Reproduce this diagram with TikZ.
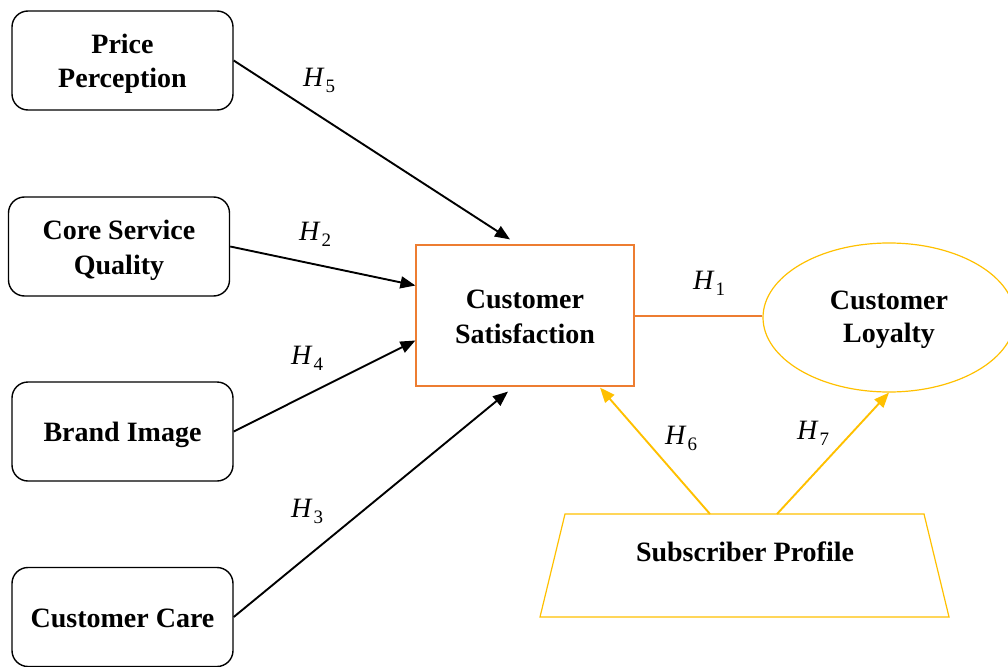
\documentclass[tikz,border=0pt]{standalone}
\usepackage{fontspec}
\setmainfont{Liberation Serif}
\usetikzlibrary{shapes.geometric,arrows.meta,calc}
\definecolor{satorange}{HTML}{ED7D31}
\definecolor{loygold}{HTML}{FFC000}

% hypothesis label: italic H with an upright, lowered index
\newcommand\hyplab[1]{\textit{H}\kern1pt\raisebox{-6pt}{\fontsize{19}{20}\selectfont #1}}

\tikzset{
  bigtext/.style={align=center, font=\fontsize{28}{34.5}\selectfont\bfseries},
  twoline/.style={text height=55pt, text depth=0pt},
  oneline/.style={text height=20.5pt, text depth=0pt},
  varbox/.style={draw=black, line width=1.4pt, rounded corners=16pt,
    minimum width=221pt, minimum height=99pt, inner sep=0pt, bigtext},
  hyp/.style={font=\fontsize{28}{30}\selectfont, anchor=base west, inner sep=0pt},
  blackarrow/.style={draw=black, line width=1.9pt, -{Triangle[length=15pt,width=12pt]}},
  goldarrow/.style={draw=loygold, line width=1.9pt, -{Triangle[length=15pt,width=12pt]}},
  orangelink/.style={draw=satorange, line width=2pt},
}

\begin{document}
\begin{tikzpicture}[x=1pt,y=-1pt]
\useasboundingbox (0,0) rectangle (1008,666);
\clip (0,0) rectangle (1008,666);

% antecedent constructs
\node[varbox, twoline] (pp) at (122.5,60.5) {Price\\Perception};
\node[varbox, twoline] (csq) at (119,246.5) {Core Service\\Quality};
\node[varbox, oneline] (bi) at (122.5,431.5) {Brand Image};
\node[varbox, oneline] (cc) at (122.5,617) {Customer Care};

% mediator and outcome
\node[draw=satorange, line width=1.2pt, minimum width=218pt, minimum height=141pt,
      inner sep=0pt, bigtext, twoline] (sat) at (525,315.5) {Customer\\Satisfaction};
\node[draw=loygold, line width=1.2pt, ellipse, minimum width=252pt, minimum height=149pt,
      inner sep=0pt, bigtext, font=\fontsize{28}{33}\selectfont\bfseries,
      text height=49pt, text depth=0pt] (loy) at (889,317.5) {Customer\\Loyalty};

% moderator: subscriber profile trapezium
\draw[loygold, line width=1.2pt] (565,514) -- (924,514) -- (949,617) -- (540,617) -- cycle;
\node[bigtext, anchor=base, inner sep=0pt] (sp) at (745,561) {Subscriber Profile};
\coordinate (sp6) at (710,514);
\coordinate (sp7) at (777,514);
\coordinate (satr) at ($(sat.east)+(0,0.5)$);

% hypothesised paths
\draw[blackarrow] (pp.east) -- ($(sat.north)+(-15,-5)$);
\draw[blackarrow] (csq.east) -- ($(sat.west)+(0,-30)$);
\draw[blackarrow] (bi.east) -- ($(sat.west)+(0,25)$);
\draw[blackarrow] (cc.east) -- ($(sat.south)+(-17,5)$);
\draw[orangelink] (satr) -- (satr -| loy.west);
\draw[goldarrow] (sp6) -- ($(sat.south)+(75,1)$);
\draw[goldarrow] (sp7) -- (loy.south);

% path labels
\node[hyp] (h5) at (303,87) {\hyplab{5}};
\node[hyp] (h2) at (299,240) {\hyplab{2}};
\node[hyp] (h4) at (291,364) {\hyplab{4}};
\node[hyp] (h3) at (291,517) {\hyplab{3}};
\node[hyp] (h1) at (693,289) {\hyplab{1}};
\node[hyp] (h6) at (665,444) {\hyplab{6}};
\node[hyp] (h7) at (797,439) {\hyplab{7}};
\end{tikzpicture}
\end{document}
